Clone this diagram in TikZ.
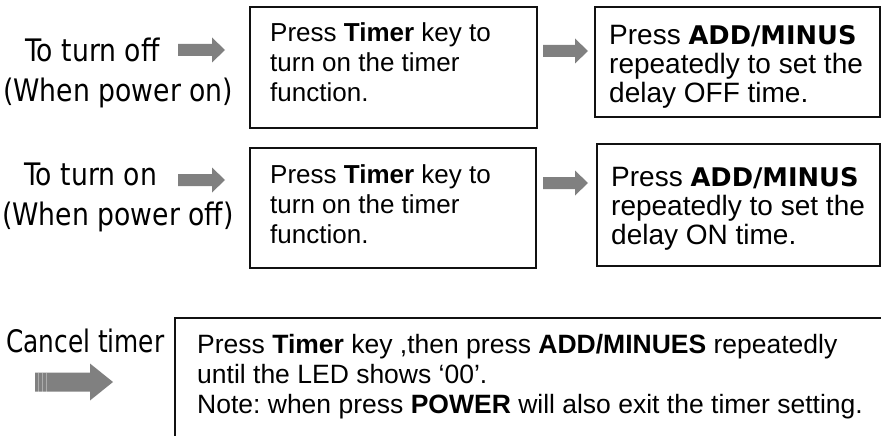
\documentclass[tikz,border=0pt]{standalone}
\usepackage{fontspec}
\setmainfont{Liberation Sans}
\newfontfamily\labelfont{DejaVu Sans}[FakeStretch=0.86]
\newfontfamily\narrowlabelfont{DejaVu Sans}[FakeStretch=0.80]
\newfontfamily\keyfont{DejaVu Sans}
\definecolor{arrowgray}{HTML}{808080}
\definecolor{framecol}{HTML}{111111}

\tikzset{
  boxframe/.style={draw=framecol, line width=1.7pt, inner sep=0, anchor=north west},
  labeltext/.style={inner sep=0, anchor=base west, font=\labelfont\fontsize{31}{36}\selectfont},
  boxtext/.style={inner sep=0, anchor=base west, font=\fontsize{26}{30}\selectfont},
  widetext/.style={inner sep=0, anchor=base west, font=\fontsize{28}{29}\selectfont},
  pics/blockarrow/.style n args={4}{code={
    \fill[arrowgray] (0,-#3) -- ({#1-#2},-#3) -- ({#1-#2},-#4) -- (#1,0)
      -- ({#1-#2},#4) -- ({#1-#2},#3) -- (0,#3) -- cycle;
  }},
}
\newcommand{\lines}[1]{\begin{tabular}[t]{@{}l@{}}#1\end{tabular}}
\newcommand{\keyword}[1]{{\keyfont\bfseries\fontsize{25.7}{29}\selectfont #1}}
\frenchspacing

\begin{document}
\begin{tikzpicture}[x=1pt, y=-1pt]
\useasboundingbox (0,0) rectangle (881,436);

% left-hand labels
\node[labeltext] (offA) at (25,62) {To turn off};
\node[labeltext] (offB) at (3,101) {(When power on)};
\node[labeltext] (onA)  at (24,185) {To turn on};
\node[labeltext] (onB)  at (2,225) {(When power off)};
\node[labeltext, font=\narrowlabelfont\fontsize{31}{36}\selectfont] (cancel) at (6,352) {Cancel timer};

% frames
\node[boxframe, minimum width=287, minimum height=121] (boxA1) at (249,6) {};
\node[boxframe, minimum width=285, minimum height=110] (boxA2) at (594,6) {};
\node[boxframe, minimum width=286, minimum height=120] (boxB1) at (249,147) {};
\node[boxframe, minimum width=283, minimum height=122] (boxB2) at (596,143) {};
\node[boxframe, minimum width=740, minimum height=160] (boxC) at (174,317) {};

% frame texts
\node[boxtext] (txtA1) at (270,42) {\lines{Press \textbf{Timer} key to\\ turn on the timer\\ function.}};
\begin{scope}
  \clip (594,6) rectangle (879,107);
  \node[widetext] (txtA2) at (609,45) {\lines{Press \keyword{ADD/MINUS}\\ repeatedly to set the\\ delay OFF time.}};
\end{scope}
\node[boxtext] (txtB1) at (270,183) {\lines{Press \textbf{Timer} key to\\ turn on the timer\\ function.}};
\node[widetext] (txtB2) at (611,186) {\lines{Press \keyword{ADD/MINUS}\\ repeatedly to set the\\ delay ON time.}};
\node[boxtext, font=\fontsize{26.5}{30}\selectfont] (txtC) at (197,353) {\lines{Press \textbf{Timer} key ,then press \textbf{ADD/MINUES} repeatedly\\ until the LED shows ‘00’.\\ Note: when press \textbf{POWER} will also exit the timer setting.}};

% block arrows
\pic (arrA1) at (178,50) {blockarrow={47}{13}{6}{12.5}};
\pic (arrA2) at (543,51) {blockarrow={45}{13}{6}{12.5}};
\pic (arrB1) at (178,180) {blockarrow={47}{13}{6}{12.5}};
\pic (arrB2) at (543,183) {blockarrow={45}{13}{6}{12.5}};
\pic (arrC) at (35,382) {blockarrow={78}{23}{9.5}{18.5}};
\foreach \sx in {3,7,11}
  \draw[white, opacity=0.35, line width=0.8pt] (35+\sx,372.5) -- (35+\sx,391.5);
\end{tikzpicture}
\end{document}
